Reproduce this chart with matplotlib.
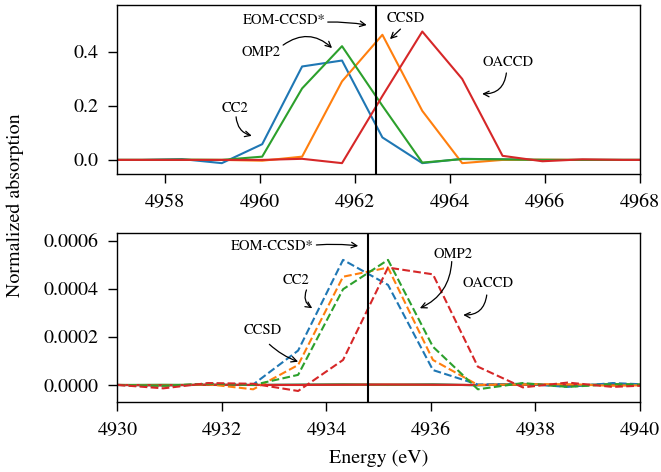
import numpy as np
import matplotlib
matplotlib.use("Agg")
import matplotlib.pyplot as plt
from matplotlib.ticker import FormatStrFormatter

plt.rcParams['font.family'] = ['STIXGeneral', 'DejaVu Serif']
plt.rcParams['mathtext.fontset'] = 'stix'

# ---------------- data: top panel (solid) ----------------
energy_top = [4956.67, 4957.52, 4958.36, 4959.20, 4960.05, 4960.89, 4961.73,
              4962.58, 4963.42, 4964.26, 4965.11, 4965.95, 4966.79, 4967.64, 4968.48]
top_cc2 = [0.0, 0.0, 0.003, -0.012, 0.058, 0.345, 0.367, 0.083, -0.012, 0.004, 0.002, 0.0, 0.0, 0.0, 0.0]
top_ccsd = [0.0, 0.0, 0.0, 0.0, -0.003, 0.012, 0.290, 0.462, 0.181, -0.012, 0.0, 0.001, 0.0, 0.0, 0.0]
top_omp2 = [0.0, 0.0, 0.001, 0.0, 0.012, 0.264, 0.420, 0.200, -0.010, 0.003, 0.002, 0.0, 0.0, 0.0, 0.0]
top_oaccd = [0.0, 0.0, 0.0, 0.0, 0.0, 0.004, -0.012, 0.236, 0.474, 0.299, 0.015, -0.005, 0.002, 0.0, 0.0]
top_eom = 4962.45

# ---------------- data: bottom panel ----------------
energy_bot = [4929.16, 4930.02, 4930.88, 4931.74, 4932.60, 4933.46, 4934.32,
              4935.18, 4936.04, 4936.90, 4937.76, 4938.62, 4939.48, 4940.34]
bot_cc2_dash = [0.0, 0.0, -5e-6, 5e-6, 2e-6, 1.43e-4, 5.20e-4, 4.16e-4, 6.2e-5, 2e-6, 5e-6, -8e-6, 8e-6, 0.0]
bot_ccsd_dash = [0.0, 0.0, -3e-6, 3e-6, -1.8e-5, 8.3e-5, 4.50e-4, 4.88e-4, 1.04e-4, 0.0, 3e-6, 3e-6, -3e-6, 0.0]
bot_omp2_dash = [0.0, 0.0, -3e-6, 5e-6, 0.0, 4.2e-5, 3.98e-4, 5.20e-4, 1.59e-4, -1.8e-5, 8e-6, -8e-6, 3e-6, 0.0]
bot_oaccd_dash = [0.0, 0.0, -1.4e-5, 8e-6, 5e-6, -2.5e-5, 1.04e-4, 4.88e-4, 4.60e-4, 7.6e-5, -1.0e-5, 1.0e-5, -8e-6, 0.0]
bot_cc2_solid = [0.0, 0.0, -2e-6, 1e-6, 0.0, 1e-6, 2e-6, 0.0, 2e-6, -1e-6, 3e-6, -3e-6, 4e-6, 0.0]
bot_ccsd_solid = [0.0, 0.0, -1e-6, 1e-6, 0.0, 0.0, 1e-6, 1e-6, 0.0, 0.0, 2e-6, -2e-6, 2e-6, 0.0]
bot_omp2_solid = [0.0, 0.0, 1e-6, 0.0, 0.0, 1e-6, 2e-6, 1e-6, 2e-6, -1e-6, 3e-6, -3e-6, 3e-6, 0.0]
bot_oaccd_solid = [0.0, 0.0, -1e-6, 1e-6, 0.0, 0.0, 1e-6, 2e-6, 1e-6, 0.0, 2e-6, 1e-6, -1e-6, 0.0]
bot_eom = 4934.79

colors = {'CC2': 'tab:blue', 'CCSD': 'tab:orange', 'OMP2': 'tab:green', 'OACCD': 'tab:red'}

fig = plt.figure(figsize=(6.61, 4.72), dpi=100)
ax1 = fig.add_axes([0.1775, 0.6314, 0.968 - 0.1775, 0.358])
ax2 = fig.add_axes([0.1775, 0.149, 0.968 - 0.1775, 0.358])

lw = 1.5
for name, y in [('CC2', top_cc2), ('CCSD', top_ccsd), ('OMP2', top_omp2), ('OACCD', top_oaccd)]:
    ax1.plot(energy_top, y, color=colors[name], lw=lw)
ax1.axvline(top_eom, color='black', lw=1.5)
ax1.set_xlim(4957, 4968)
ax1.set_ylim(-0.052, 0.572)
ax1.set_xticks([4958, 4960, 4962, 4964, 4966, 4968])
ax1.set_yticks([0.0, 0.2, 0.4])
ax1.yaxis.set_major_formatter(FormatStrFormatter('%.1f'))

for name, y in [('CC2', bot_cc2_solid), ('CCSD', bot_ccsd_solid), ('OMP2', bot_omp2_solid), ('OACCD', bot_oaccd_solid)]:
    ax2.plot(energy_bot, y, color=colors[name], lw=lw)
for name, y in [('CC2', bot_cc2_dash), ('CCSD', bot_ccsd_dash), ('OMP2', bot_omp2_dash), ('OACCD', bot_oaccd_dash)]:
    ax2.plot(energy_bot, y, color=colors[name], lw=lw, ls='--')
ax2.axvline(bot_eom, color='black', lw=1.5)
ax2.set_xlim(4930, 4940)
ax2.set_ylim(-0.0000694, 0.000633)
ax2.set_xticks([4930, 4932, 4934, 4936, 4938, 4940])
ax2.set_yticks([0.0, 0.0002, 0.0004, 0.0006])
ax2.yaxis.set_major_formatter(FormatStrFormatter('%.4f'))

for ax in (ax1, ax2):
    ax.tick_params(labelsize=14.4, length=6.5, width=1)
    ax.tick_params(axis='x', pad=8)
    ax.tick_params(axis='y', pad=7.3)
    for s in ax.spines.values():
        s.set_linewidth(1.0)

ax2.set_xlabel('Energy (eV)', fontsize=14.4, labelpad=7.5)
fig.text(0.0227, 0.566, 'Normalized absorption', rotation=90, fontsize=14.4, ha='center', va='center')

afs = 10.5
ap = dict(arrowstyle='->', color='black', lw=0.9, shrinkA=0, shrinkB=0)

def note(ax, text, txy, start, end, rad):
    ax.text(txy[0], txy[1], text, fontsize=afs, ha='center', va='center')
    ax.annotate('', xy=end, xytext=start,
                arrowprops=dict(ap, connectionstyle='arc3,rad=%s' % rad))

# top annotations
note(ax1, 'EOM-CCSD*', (4960.52, 0.517), (4961.43, 0.509), (4962.25, 0.498), -0.05)
note(ax1, 'OMP2', (4960.02, 0.399), (4960.49, 0.424), (4961.52, 0.413), -0.4)
note(ax1, 'CC2', (4959.48, 0.192), (4959.50, 0.159), (4959.83, 0.089), 0.35)
note(ax1, 'CCSD', (4963.07, 0.524), (4962.96, 0.483), (4962.74, 0.446), 0.0)
note(ax1, 'OACCD', (4965.22, 0.362), (4965.19, 0.321), (4964.68, 0.244), -0.45)

# bottom annotations
note(ax2, 'EOM-CCSD*', (4932.97, 0.000578), (4933.81, 0.000582), (4934.61, 0.000578), -0.05)
note(ax2, 'CC2', (4933.43, 0.000434), (4933.62, 0.000395), (4933.73, 0.000319), 0.4)
note(ax2, 'CCSD', (4932.78, 0.000226), (4932.91, 0.000169), (4933.46, 0.0000969), 0.1)
note(ax2, 'OMP2', (4936.42, 0.000545), (4936.40, 0.000513), (4935.79, 0.000319), -0.3)
note(ax2, 'OACCD', (4937.09, 0.000424), (4937.07, 0.000374), (4936.62, 0.000291), -0.45)

fig.savefig('out.png', dpi=100)
